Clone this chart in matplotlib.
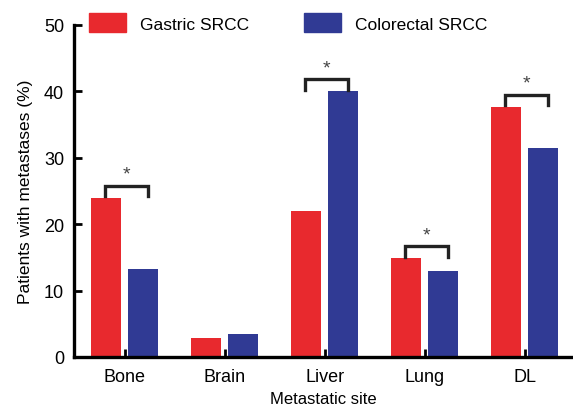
import numpy as np
import matplotlib
matplotlib.use("Agg")
import matplotlib.pyplot as plt
from matplotlib.patches import Patch

sites = ["Bone", "Brain", "Liver", "Lung", "DL"]
gastric = [24.0, 2.9, 22.0, 14.9, 37.7]
colorectal = [13.3, 3.5, 40.0, 12.9, 31.5]
significant = [True, False, True, True, True]

red = "#e8292e"
blue = "#303a94"

plt.rcParams["font.family"] = ["Liberation Sans", "DejaVu Sans"]

fig = plt.figure(figsize=(5.73, 4.10), dpi=100)
ax = fig.add_axes([0.129, 0.127, 0.871, 0.81])

x = np.arange(len(sites))
w = 0.30
off = 0.185
ax.bar(x - off, gastric, w, color=red)
ax.bar(x + off, colorectal, w, color=blue)

# significance brackets
for i, sig in enumerate(significant):
    if not sig:
        continue
    top = max(gastric[i], colorectal[i]) + 1.8
    leg = top - 1.6
    xl, xr = i - 0.20, i + 0.23
    ax.plot([xl, xl, xr, xr], [leg, top, top, leg], color="#222222",
            lw=2.4, solid_joinstyle="miter", clip_on=False)
    ax.text((xl + xr) / 2, top + 0.4, "*", ha="center", va="bottom",
            fontsize=14, color="#444444")

ax.set_xlim(-0.51, 4.48)
ax.set_ylim(0, 50)
ax.set_yticks([0, 10, 20, 30, 40, 50])
ax.set_xticks(x)
ax.set_xticklabels(sites)
ax.tick_params(axis="both", direction="in", length=6, width=2, labelsize=13)
ax.tick_params(axis="y", pad=7)
ax.tick_params(axis="x", pad=8)
for s in ["top", "right"]:
    ax.spines[s].set_visible(False)
for s in ["left", "bottom"]:
    ax.spines[s].set_linewidth(2.4)

ax.set_ylabel("Patients with metastases (%)", fontsize=12.5, labelpad=8)
ax.set_xlabel("Metastatic site", fontsize=12, labelpad=4)

handles = [Patch(color=red, label="Gastric SRCC"),
           Patch(color=blue, label="Colorectal SRCC")]
fig.legend(handles=handles, loc="center left", bbox_to_anchor=(0.155, 0.942),
           ncol=2, frameon=False, fontsize=12.5, handlelength=2.13,
           handleheight=1.32, handletextpad=0.8, columnspacing=3.2,
           borderpad=0, borderaxespad=0)

fig.savefig("out.png", dpi=100)
